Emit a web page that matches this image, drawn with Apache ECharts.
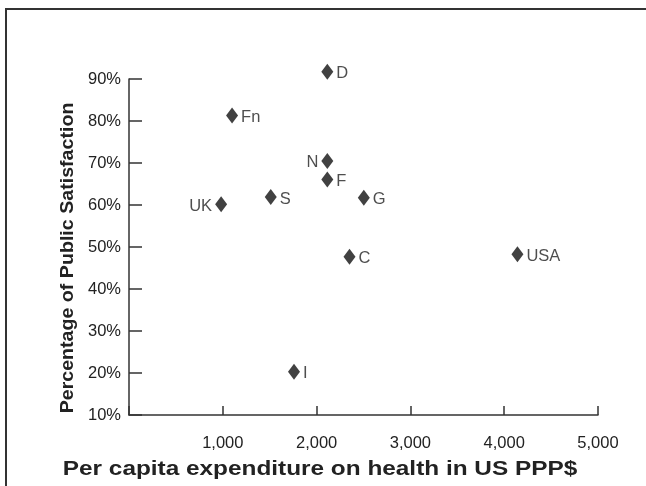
<!DOCTYPE html>
<html>
<head>
<meta charset="utf-8">
<script src="https://cdn.jsdelivr.net/npm/echarts@6/dist/echarts.min.js"></script>
<style>html,body{margin:0;padding:0;background:#fff;}#chart{width:646px;height:486px;}</style>
</head>
<body>
<div id="chart"></div>
<script>
const countries = ['D','Fn','N','F','S','UK','G','C','USA','I'];
const spending = [2114, 1099, 2114, 2114, 1511, 982, 2503, 2351, 4141, 1759];
const satisfaction = [91.7, 81.3, 70.5, 66.1, 61.9, 60.2, 61.7, 47.7, 48.3, 20.3];
const labelLeft = ['N','UK'];
const xTitle = 'Per capita expenditure on health in US PPP$';
const yTitle = 'Percentage of Public Satisfaction';

const chart = echarts.init(document.getElementById('chart'), null, {renderer:'canvas'});
const font = '"Liberation Sans", Arial, Helvetica, sans-serif';
const txt = '#222';
const data = countries.map((c,i)=>({
  value:[spending[i], satisfaction[i]],
  name:c,
  label:{position: labelLeft.includes(c) ? 'left' : 'right'}
}));
chart.setOption({
  animation:false,
  backgroundColor:'#fff',
  grid:{left:129, right:48, top:79, bottom:71, containLabel:false},
  xAxis:{
    type:'value', min:0, max:5000, interval:1000,
    axisLine:{lineStyle:{color:'#333', width:1.5}},
    axisTick:{show:true, inside:true, length:9, lineStyle:{color:'#333', width:1.5}},
    splitLine:{show:false},
    axisLabel:{color:txt, fontFamily:font, fontSize:16.5, margin:20,
      formatter:v=> v===0 ? '' : v.toLocaleString('en-US')}
  },
  yAxis:{
    type:'value', min:10, max:90, interval:10,
    axisLine:{show:true, lineStyle:{color:'#333', width:1.5}},
    axisTick:{show:true, inside:true, length:13, lineStyle:{color:'#333', width:1.5}},
    splitLine:{show:false},
    axisLabel:{color:txt, fontFamily:font, fontSize:16.5, margin:8, formatter:v=>v+'%'}
  },
  series:[{
    type:'scatter',
    clip:false,
    symbol:'diamond',
    symbolSize:[12,16],
    itemStyle:{color:'#111'},
    label:{show:true, formatter:'{b}', color:txt, fontFamily:font, fontSize:16.5, distance:3, offset:[0,2]},
    data:data
  }],
  graphic:[
    {type:'rect', shape:{x:6, y:9, width:700, height:700}, style:{fill:'none', stroke:'#333', lineWidth:2}, silent:true, z:-1},
    {type:'text', x:320, y:469, scaleX:1.16, style:{text:xTitle, font:'bold 21px '+font, fill:txt, textAlign:'center', textVerticalAlign:'middle'}},
    {type:'text', x:68, y:258, rotation:Math.PI/2, scaleX:1.09, style:{text:yTitle, font:'bold 18px '+font, fill:txt, textAlign:'center', textVerticalAlign:'middle'}}
  ]
});
</script>
</body>
</html>
